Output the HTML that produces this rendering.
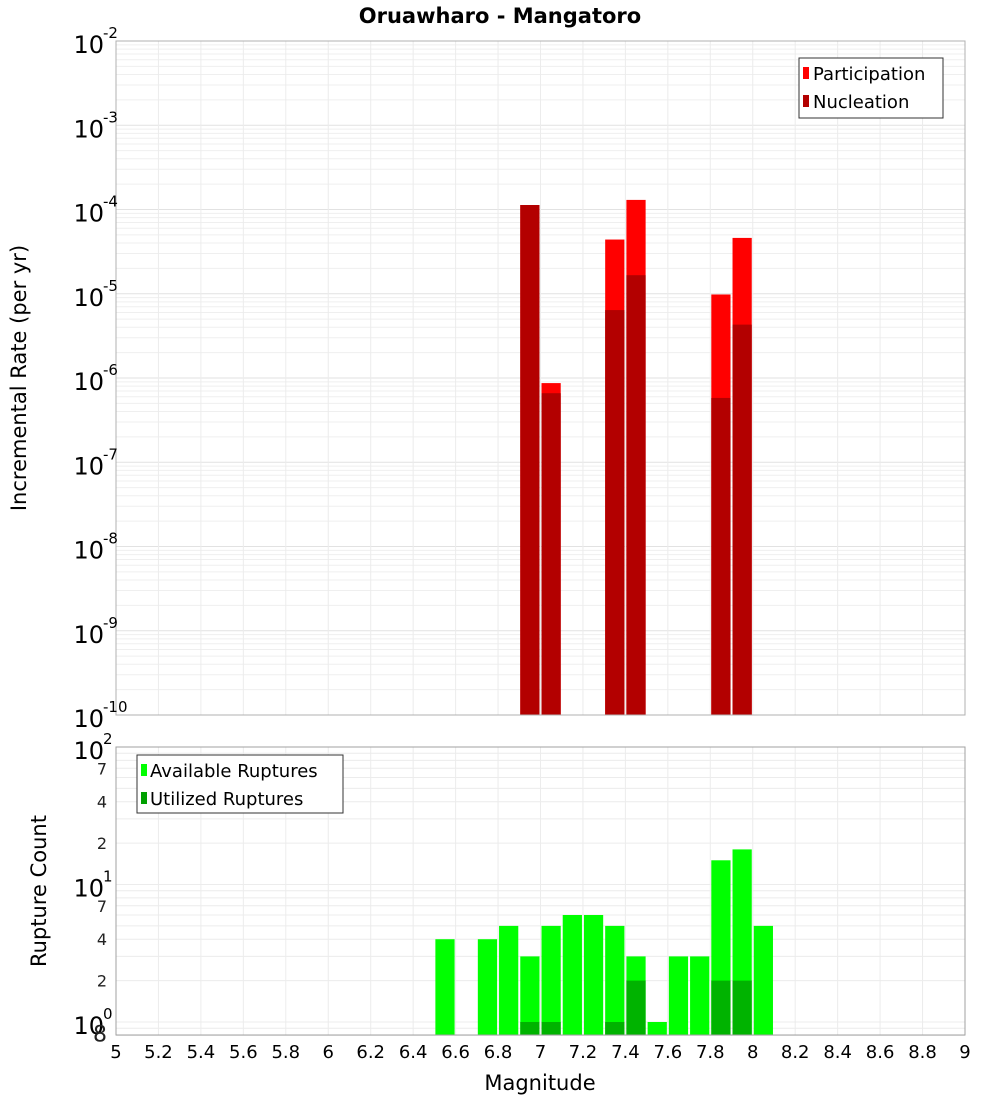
<!DOCTYPE html>
<html><head><meta charset="utf-8"><style>
body{margin:0;background:#fff;}
svg{display:block;font-family:"DejaVu Sans","Liberation Sans",sans-serif;}
</style></head><body>
<svg id="chart" width="1000" height="1100">
<text x="500" y="23" text-anchor="middle" font-weight="bold" font-size="21">Oruawharo - Mangatoro</text>
<g id="topg"></g>
<g id="botg"></g>
<text transform="translate(26,378) rotate(-90)" text-anchor="middle" font-size="21">Incremental Rate (per yr)</text>
<text transform="translate(46,891) rotate(-90)" text-anchor="middle" font-size="21">Rupture Count</text>
<text x="540" y="1090" text-anchor="middle" font-size="21">Magnitude</text>
</svg>
<script>
const mags=[6.9,7.0,7.3,7.4,7.8,7.9];
const participation=[1.13e-4,8.7e-7,4.4e-5,1.3e-4,9.8e-6,4.6e-5];
const nucleation=[1.13e-4,6.6e-7,6.4e-6,1.66e-5,5.8e-7,4.3e-6];
const countMags=[6.5,6.7,6.8,6.9,7.0,7.1,7.2,7.3,7.4,7.5,7.6,7.7,7.8,7.9,8.0];
const available=[4,4,5,3,5,6,6,5,3,1,3,3,15,18,5];
const utilizedMags=[6.9,7.0,7.3,7.4,7.8,7.9];
const utilized=[1,1,1,2,2,2];
const xTicks=[5,5.2,5.4,5.6,5.8,6,6.2,6.4,6.6,6.8,7,7.2,7.4,7.6,7.8,8,8.2,8.4,8.6,8.8,9];

const NS='http://www.w3.org/2000/svg';
const X0=116,X1=965;
const x=m=>X0+(m-5)/4*(X1-X0);
const T0=41,T1=715;
const yT=v=>T0+(-2-Math.log10(v))/8*(T1-T0);
const B0=747,B1=1035;
const yB=v=>B0+(2-Math.log10(v))*137.5;
function mk(tag,attrs,parent){const e=document.createElementNS(NS,tag);for(const k in attrs)e.setAttribute(k,attrs[k]);parent.appendChild(e);return e;}
const topG=document.getElementById('topg'),botG=document.getElementById('botg');

for(let d=-10;d<-2;d++){for(let k=1;k<10;k++){const y=yT(k*Math.pow(10,d));
 const l=mk('line',{x1:X0,x2:X1,y1:y,y2:y,stroke:k==1?'#e2e2e2':'#efefef','stroke-width':1},topG);
 
 }}
xTicks.forEach(t=>{const l=mk('line',{x1:x(t),x2:x(t),y1:T0,y2:T1,stroke:'#ececec'},topG);
 
 });
const bw=(X1-X0)/40;
mags.forEach((m,i)=>{
 const xa=x(m)+1,w=bw-2;
 const p=mk('rect',{x:xa,y:yT(participation[i]),width:w,height:T1-yT(participation[i]),fill:'#ff0000'},topG);
 
 
 const n=mk('rect',{x:xa,y:yT(nucleation[i]),width:w,height:T1-yT(nucleation[i]),fill:'#b30000'},topG);
 
 
});
mk('rect',{x:X0,y:T0,width:X1-X0,height:T1-T0,fill:'none',stroke:'#b0b0b0'},topG);
for(let d=-10;d<=-2;d++){const y=yT(Math.pow(10,d));
 const t=mk('text',{x:104,y:y+12,'text-anchor':'end','font-size':24},topG);t.textContent='10';
 
 
 const s=mk('text',{x:103,y:y-3,'font-size':15},topG);s.textContent=String(d);
 
 }
const lg=mk('g',{},topG);


mk('rect',{x:799,y:58,width:144,height:60,fill:'#fff',stroke:'#333'},lg);
mk('rect',{x:803,y:67,width:6,height:12,fill:'#ff0000'},lg);
mk('rect',{x:803,y:95,width:6,height:12,fill:'#b30000'},lg);
const lt1=mk('text',{x:813,y:80,'font-size':18},lg);lt1.textContent='Participation';
const lt2=mk('text',{x:813,y:108,'font-size':18},lg);lt2.textContent='Nucleation';

const minor=[0.8,0.9,1,2,3,4,5,6,7,8,9,10,20,30,40,50,60,70,80,90,100];
minor.forEach(v=>{const y=yB(v);
 const l=mk('line',{x1:X0,x2:X1,y1:y,y2:y,stroke:'#ececec'},botG);
 
 });
xTicks.forEach(t=>{const l=mk('line',{x1:x(t),x2:x(t),y1:B0,y2:B1,stroke:'#ececec'},botG);
 
 });
countMags.forEach((m,i)=>{
 const r=mk('rect',{x:x(m)+1,y:yB(available[i]),width:bw-2,height:B1-yB(available[i]),fill:'#00ff00'},botG);
 
 });
utilizedMags.forEach((m,i)=>{
 const r=mk('rect',{x:x(m)+1,y:yB(utilized[i]),width:bw-2,height:B1-yB(utilized[i]),fill:'#00b300'},botG);
 
 });
mk('rect',{x:X0,y:B0,width:X1-X0,height:B1-B0,fill:'none',stroke:'#a0a0a0'},botG);
[[0,1],[1,10],[2,100]].forEach(([e,v])=>{const y=yB(v);
 const t=mk('text',{x:104,y:y+12,'text-anchor':'end','font-size':24},botG);t.textContent='10';
 
 
 const s=mk('text',{x:103,y:y-3,'font-size':15},botG);s.textContent=String(e);
 
 });
[[2,'2'],[4,'4'],[7,'7'],[20,'2'],[40,'4'],[70,'7'],[0.8,'8']].forEach(([v,s])=>{
 const t=mk('text',{x:107,y:yB(v)+6,'text-anchor':'end','font-size':v==0.8?22:16,fill:'#222'},botG);t.textContent=s;
 
 });
xTicks.forEach(t=>{const e=mk('text',{x:x(t),y:1058,'text-anchor':'middle','font-size':18},botG);e.textContent=String(t);
 
 });
const lb=mk('g',{},botG);


mk('rect',{x:137,y:755,width:206,height:58,fill:'#fff',stroke:'#333'},lb);
mk('rect',{x:141,y:764,width:6,height:12,fill:'#00ff00'},lb);
mk('rect',{x:141,y:792,width:6,height:12,fill:'#00a000'},lb);
const b1=mk('text',{x:150,y:777,'font-size':18},lb);b1.textContent='Available Ruptures';
const b2=mk('text',{x:150,y:805,'font-size':18},lb);b2.textContent='Utilized Ruptures';
</script>
</body></html>
